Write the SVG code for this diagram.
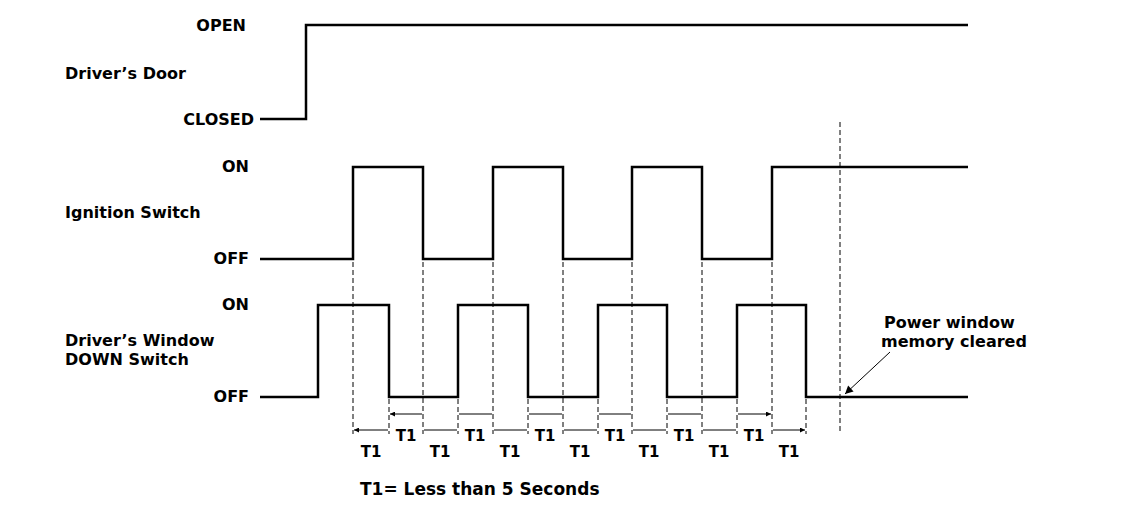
<svg xmlns="http://www.w3.org/2000/svg" width="1136" height="508" viewBox="0 0 1136 508">
<defs>
<style>
.t{font-family:"DejaVu Sans","Liberation Sans",sans-serif;font-weight:bold;fill:#000}
.lbl{font-size:16px}
.lv{font-size:16px;text-anchor:end}
.t1{font-size:15px;text-anchor:middle}
.big{font-size:17px}
.co{font-size:16px}
.sig{fill:none;stroke:#000;stroke-width:2.5;stroke-linejoin:miter}
.dash{fill:none;stroke:#000;stroke-width:1;stroke-dasharray:5,3}
.dim{fill:none;stroke:#000;stroke-width:1;marker-start:url(#ah);marker-end:url(#ah)}
</style>
<marker id="ah" viewBox="0 0 10 10" refX="10" refY="5" markerWidth="7" markerHeight="5" markerUnits="userSpaceOnUse" orient="auto-start-reverse">
<path d="M0,0 L10,5 L0,10 Z" fill="#000"/>
</marker>
<marker id="ah2" viewBox="0 0 10 10" refX="10" refY="5" markerWidth="13" markerHeight="8" markerUnits="userSpaceOnUse" orient="auto">
<path d="M0,0 L10,5 L0,10 Z" fill="#000"/>
</marker>
</defs>
<rect width="1136" height="508" fill="#fff"/>

<g id="door">
<text class="t lbl" x="65" y="79">Driver’s Door</text>
<text class="t lv" x="246" y="31">OPEN</text>
<text class="t lv" x="254" y="125">CLOSED</text>
<path class="sig" d="M260,119 H306 V25 H968"/>
</g>

<g id="ignition">
<text class="t lbl" x="65" y="218">Ignition Switch</text>
<text class="t lv" x="249" y="172">ON</text>
<text class="t lv" x="249" y="264">OFF</text>
<path class="sig" d="M260,259 H353 V167 H423 V259 H493 V167 H563 V259 H632 V167 H702 V259 H772 V167 H968"/>
</g>

<g id="window">
<text class="t lbl" x="65" y="346">Driver’s Window</text>
<text class="t lbl" x="65" y="365">DOWN Switch</text>
<text class="t lv" x="249" y="310">ON</text>
<text class="t lv" x="249" y="402">OFF</text>
<path class="sig" d="M260,397 H318 V305 H389 V397 H458 V305 H528 V397 H598 V305 H667 V397 H737 V305 H806 V397 H968"/>
</g>

<g id="callout">
<text class="t co" x="884" y="328">Power window</text>
<text class="t co" x="881" y="347">memory cleared</text>
</g>

<g id="note">
<text class="t big" x="360" y="495">T1= Less than 5 Seconds</text>
</g>

<g id="connectors">
<path class="dash" d="M353,262 V434 M423,262 V434 M493,262 V434 M563,262 V434 M632,262 V434 M702,262 V434 M772,262 V434"/>
<path class="dash" d="M389,399 V434 M458,399 V434 M528,399 V434 M598,399 V434 M667,399 V434 M737,399 V434 M806,399 V434"/>
<path class="dash" d="M840,122 V432"/>
<path class="dim" d="M390,414 H422 M459,414 H492 M529,414 H562 M599,414 H631 M668,414 H701 M738,414 H771"/>
<path class="dim" d="M354,430 H388 M424,430 H457 M494,430 H527 M564,430 H597 M633,430 H666 M703,430 H736 M773,430 H805"/>
<line x1="890" y1="352" x2="845" y2="394" stroke="#000" stroke-width="1" marker-end="url(#ah2)"/>
</g>

<g id="t1labels">
<text class="t t1" x="406" y="441">T1</text>
<text class="t t1" x="475" y="441">T1</text>
<text class="t t1" x="545" y="441">T1</text>
<text class="t t1" x="615" y="441">T1</text>
<text class="t t1" x="684" y="441">T1</text>
<text class="t t1" x="754" y="441">T1</text>
<text class="t t1" x="371" y="457">T1</text>
<text class="t t1" x="440" y="457">T1</text>
<text class="t t1" x="510" y="457">T1</text>
<text class="t t1" x="580" y="457">T1</text>
<text class="t t1" x="649" y="457">T1</text>
<text class="t t1" x="719" y="457">T1</text>
<text class="t t1" x="789" y="457">T1</text>
</g>
</svg>
